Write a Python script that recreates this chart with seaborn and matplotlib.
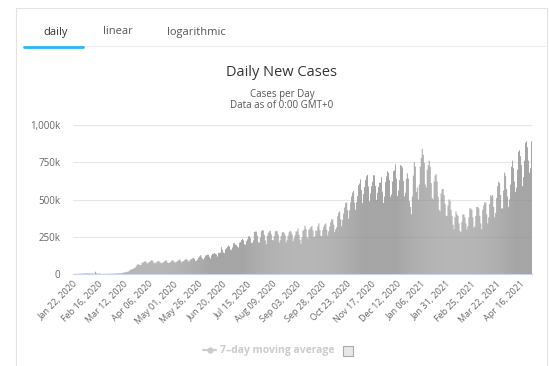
import numpy as np
import pandas as pd
import matplotlib.pyplot as plt
from matplotlib.lines import Line2D
from matplotlib.patches import Rectangle
import seaborn as sns

# daily new cases (thousands), one row per week Wed..Tue, starting Jan 22, 2020
weeks = [
    [0.1, 0.3, 0.3, 0.5, 0.7, 0.8, 1.5],
    [1.7, 2.0, 2.1, 2.6, 2.8, 3.2, 3.9],
    [3.7, 3.2, 3.4, 2.7, 3.0, 2.5, 2.0],
    [2.0, 15.2, 5.1, 2.6, 2.1, 2.0, 1.9],
    [0.5, 0.6, 1.0, 0.6, 0.6, 0.7, 0.9],
    [1.0, 1.3, 1.4, 1.8, 1.8, 2.0, 2.3],
    [2.4, 2.8, 3.9, 3.9, 4.0, 3.8, 4.6],
    [7.0, 7.7, 10.0, 11.0, 12.5, 14.3, 16.2],
    [19.5, 27.0, 30.3, 31.8, 33.0, 41.0, 40.0],
    [50, 62, 64, 64, 60, 59, 74],
    [77, 82, 85, 82, 72, 71, 80],
    [84, 89, 94, 85, 72, 76, 72],
    [82, 86, 87, 79, 74, 73, 76],
    [80, 87, 93, 85, 73, 74, 76],
    [82, 89, 93, 85, 78, 78, 82],
    [88, 92, 98, 87, 77, 84, 87],
    [93, 98, 100, 93, 83, 90, 96],
    [101, 106, 107, 101, 87, 90, 97],
    [109, 118, 126, 112, 102, 98, 110],
    [124, 126, 130, 128, 115, 103, 125],
    [135, 135, 141, 136, 131, 117, 142],
    [141, 144, 180, 163, 144, 140, 166],
    [174, 181, 191, 186, 163, 163, 178],
    [205, 207, 197, 194, 184, 178, 209],
    [214, 227, 236, 226, 200, 196, 220],
    [233, 252, 254, 241, 208, 210, 226],
    [282, 285, 285, 256, 214, 210, 244],
    [287, 295, 292, 262, 226, 200, 255],
    [276, 286, 290, 267, 228, 226, 254],
    [285, 290, 287, 265, 211, 227, 255],
    [279, 282, 275, 260, 212, 230, 256],
    [280, 290, 283, 266, 219, 238, 260],
    [286, 285, 305, 264, 229, 203, 245],
    [289, 298, 323, 303, 249, 238, 296],
    [305, 315, 321, 292, 249, 252, 292],
    [289, 320, 340, 296, 256, 254, 294],
    [318, 331, 339, 296, 258, 287, 318],
    [347, 367, 365, 331, 281, 300, 313],
    [387, 411, 420, 367, 320, 363, 406],
    [446, 476, 481, 428, 371, 428, 480],
    [520, 547, 557, 479, 430, 482, 523],
    [596, 607, 635, 563, 476, 537, 583],
    [630, 656, 665, 587, 488, 541, 589],
    [619, 663, 662, 590, 497, 544, 584],
    [614, 612, 650, 553, 477, 520, 618],
    [655, 690, 680, 630, 519, 534, 620],
    [690, 695, 735, 640, 523, 560, 630],
    [730, 727, 715, 625, 521, 546, 640],
    [675, 640, 490, 450, 400, 520, 660],
    [750, 720, 550, 580, 500, 600, 720],
    [780, 840, 800, 745, 600, 580, 700],
    [730, 760, 720, 610, 510, 500, 620],
    [660, 670, 620, 520, 430, 420, 540],
    [570, 570, 530, 470, 390, 390, 460],
    [500, 490, 430, 390, 330, 300, 380],
    [420, 400, 390, 340, 290, 280, 350],
    [400, 400, 380, 340, 300, 320, 380],
    [440, 440, 430, 380, 310, 320, 390],
    [450, 450, 440, 390, 340, 300, 430],
    [460, 480, 480, 400, 340, 380, 470],
    [530, 520, 530, 450, 380, 410, 510],
    [590, 620, 610, 530, 440, 440, 560],
    [680, 660, 570, 520, 450, 500, 600],
    [720, 760, 710, 620, 550, 580, 700],
    [820, 830, 790, 730, 590, 650, 760],
    [880, 890, 850, 760, 680, 710, 890],
]

tick_labels = ['Jan 22, 2020', 'Feb 16, 2020', 'Mar 12, 2020', 'Apr 06, 2020',
               'May 01, 2020', 'May 26, 2020', 'Jun 20, 2020', 'Jul 15, 2020',
               'Aug 09, 2020', 'Sep 03, 2020', 'Sep 28, 2020', 'Oct 23, 2020',
               'Nov 17, 2020', 'Dec 12, 2020', 'Jan 06, 2021', 'Jan 31, 2021',
               'Feb 25, 2021', 'Mar 22, 2021', 'Apr 16, 2021']
y_ticks = [0, 250, 500, 750, 1000]
y_labels = ['0', '250k', '500k', '750k', '1,000k']

cases_k = np.concatenate(weeks)
df = pd.DataFrame({'day': np.arange(len(cases_k)), 'cases': cases_k})

sns.set_style('white')
plt.rcParams['font.family'] = ['Open Sans', 'DejaVu Sans']

W, H = 550, 366
fig = plt.figure(figsize=(5.5, 3.66), dpi=100)
ax = fig.add_axes([73 / W, 1 - 274 / H, 459 / W, 149 / H])

# snap=False keeps the sub-pixel bars from vanishing
sns.barplot(data=df, x='day', y='cases', color='#8f8f8f', saturation=1,
            width=0.8, linewidth=0, snap=False, ax=ax)

ax.set_xlim(-0.5, len(cases_k) - 0.5)
ax.set_ylim(0, 1000)
ax.set_yticks(y_ticks)
ax.set_yticklabels(y_labels, fontsize=7, color='#666666')
ax.set_xticks(np.arange(0, 25 * len(tick_labels), 25))
ax.set_xticklabels(tick_labels, rotation=45, ha='right', rotation_mode='anchor',
                   fontsize=6.5, color='#666666')
ax.tick_params(axis='y', length=0, pad=9)
ax.tick_params(axis='x', length=0, pad=4)
ax.set_xlabel('')
ax.set_ylabel('')
ax.grid(axis='y', color='#e6e6e6', linewidth=0.8)
ax.set_axisbelow(True)
for s in ['top', 'right', 'left']:
    ax.spines[s].set_visible(False)
ax.spines['bottom'].set_color('#ccd6eb')
ax.spines['bottom'].set_linewidth(0.8)


def fline(x0, y0, x1, y1, **kw):
    fig.add_artist(Line2D([x0 / W, x1 / W], [1 - y0 / H, 1 - y1 / H],
                          transform=fig.transFigure, **kw))


# card border
fline(16, 8, 547, 8, color='#e3e3e3', lw=0.8)
fline(16, 8, 16, 366, color='#e3e3e3', lw=0.8)
fline(547, 8, 547, 366, color='#e3e3e3', lw=0.8)

# tabs
fig.text(56 / W, 1 - 32 / H, 'daily', ha='center', va='center', fontsize=8, color='#333333')
fig.text(118 / W, 1 - 32 / H, 'linear', ha='center', va='center', fontsize=8, color='#555555')
fig.text(196 / W, 1 - 32 / H, 'logarithmic', ha='center', va='center', fontsize=8, color='#555555')
fline(24, 46, 547, 46, color='#eeeeee', lw=0.8)
fline(24, 46.5, 83, 46.5, color='#29b6f6', lw=2)

# titles
fig.text(282 / W, 1 - 72 / H, 'Daily New Cases', ha='center', va='center',
         fontsize=10.5, color='#333333')
fig.text(282 / W, 1 - 95 / H, 'Cases per Day', ha='center', va='center',
         fontsize=7, color='#555555')
fig.text(282 / W, 1 - 106 / H, 'Data as of 0:00 GMT+0', ha='center', va='center',
         fontsize=7, color='#555555')

# legend (disabled look)
fline(203, 350, 216, 350, color='#cccccc', lw=1.5)
fig.add_artist(Line2D([209.5 / W], [1 - 350 / H], marker='o', markersize=3.5,
                      color='#cccccc', transform=fig.transFigure))
fig.text(220 / W, 1 - 350 / H, '7–day moving average', ha='left', va='center',
         fontsize=7.5, fontweight='bold', color='#cccccc')
fig.add_artist(Rectangle((343 / W, 1 - 356 / H), 10 / W, 10 / H, transform=fig.transFigure,
                         facecolor='#e8e8e8', edgecolor='#aaaaaa', lw=0.8))

fig.savefig('out.png', dpi=100)
